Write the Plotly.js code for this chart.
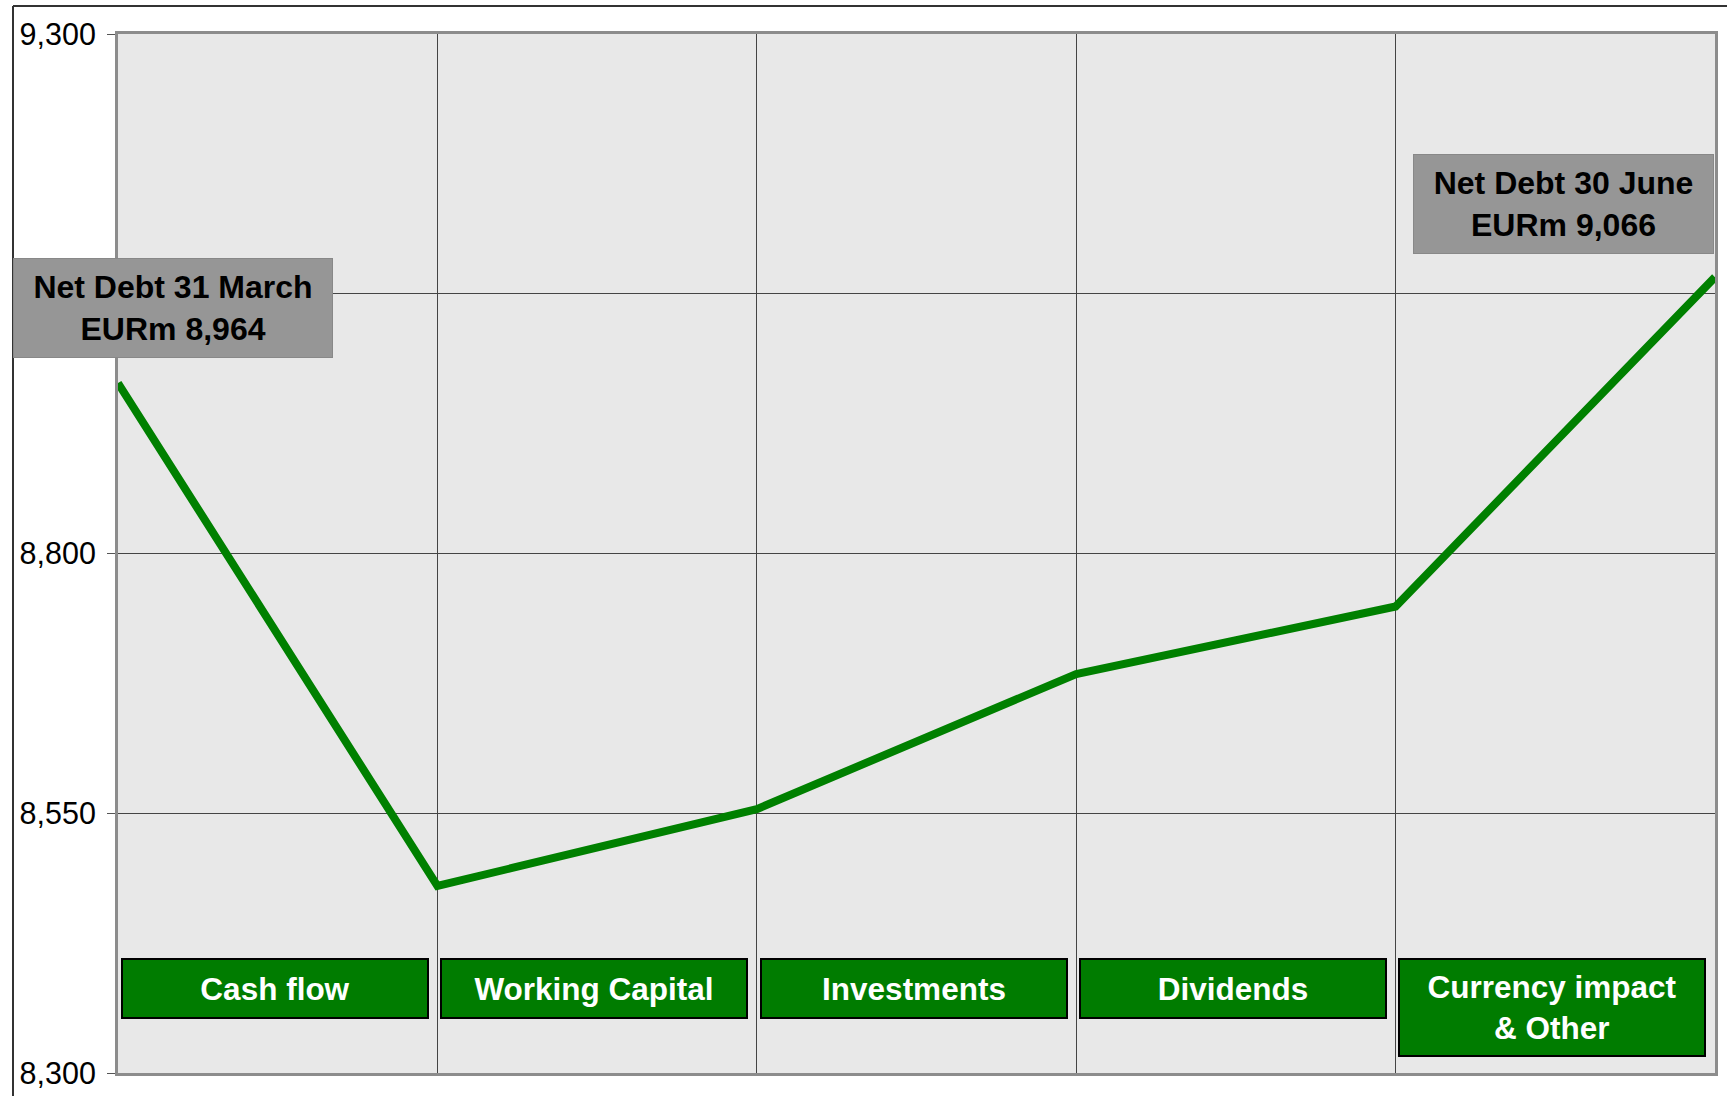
<!DOCTYPE html>
<html>
<head>
<meta charset="utf-8">
<script src="https://cdn.plot.ly/plotly-3.0.1.min.js"></script>
<style>
  html, body { margin: 0; padding: 0; background: #ffffff; }
  #chart { width: 1727px; height: 1096px; }
</style>
</head>
<body>
<div id="chart"></div>
<script>
// ---- data ----
const categories = ['Cash flow', 'Working Capital', 'Investments', 'Dividends', 'Currency impact<br>& Other'];
const netDebt = [8964, 8480, 8554, 8684, 8749, 9066];
const yTicks = [8300, 8550, 8800, 9050, 9300];
// the 9,050 label is hidden behind the "31 March" box in the reference
const yTickLabels = ['8,300', '8,550', '8,800', '', '9,300'];
const startLabel = 'Net Debt 31 March<br>EURm 8,964';
const endLabel = 'Net Debt 30 June<br>EURm 9,066';

// ---- layout constants ----
const W = 1727, H = 1096;
const mL = 118, mR = 12, mT = 34, mB = 23;
const plotW = W - mL - mR, plotH = H - mT - mB;
const px = x => (x - mL) / plotW;           // pixel -> paper x
const py = y => (H - mB - y) / plotH;        // pixel -> paper y

const xIdx = netDebt.map((_, i) => i);

const trace = {
  type: 'scatter',
  mode: 'lines',
  x: xIdx,
  y: netDebt,
  line: { color: '#008000', width: 8 },
  hoverinfo: 'skip'
};

const annotations = [];
categories.forEach((c, i) => {
  const twoLines = c.includes('<br>');
  annotations.push({
    xref: 'x', yref: 'paper',
    x: i + 0.5, y: py(958),
    xanchor: 'center', yanchor: 'top',
    xshift: -3,
    text: '<b>' + c + '</b>',
    showarrow: false,
    font: { family: 'Liberation Sans, Arial, sans-serif', size: 31.5, color: '#ffffff' },
    bgcolor: '#007c00',
    bordercolor: '#000000',
    borderwidth: 2,
    borderpad: 0,
    width: 304,
    height: twoLines ? 95 : 57,
    align: 'center',
    valign: 'middle'
  });
});

const boxFont = { family: 'Liberation Sans, Arial, sans-serif', size: 32, color: '#000000' };
annotations.push({
  xref: 'paper', yref: 'paper',
  x: px(173), y: py(308),
  xanchor: 'center', yanchor: 'middle',
  text: '<b>' + startLabel + '</b>',
  showarrow: false,
  font: boxFont,
  bgcolor: '#969696',
  bordercolor: '#888888',
  borderwidth: 1,
  borderpad: 0,
  width: 318,
  height: 98,
  align: 'center',
  valign: 'middle'
});
annotations.push({
  xref: 'paper', yref: 'paper',
  x: px(1563.5), y: py(204),
  xanchor: 'center', yanchor: 'middle',
  text: '<b>' + endLabel + '</b>',
  showarrow: false,
  font: boxFont,
  bgcolor: '#969696',
  bordercolor: '#888888',
  borderwidth: 1,
  borderpad: 0,
  width: 299,
  height: 98,
  align: 'center',
  valign: 'middle'
});

const shapes = [
  // outer frame: left and top lines
  { type: 'line', xref: 'paper', yref: 'paper', x0: px(13), x1: px(13), y0: py(6), y1: py(H + 5),
    line: { color: '#333333', width: 2 } },
  { type: 'line', xref: 'paper', yref: 'paper', x0: px(13), x1: px(W + 5), y0: py(6), y1: py(6),
    line: { color: '#333333', width: 2 } }
];

const layout = {
  width: W, height: H,
  margin: { l: mL, r: mR, t: mT, b: mB, pad: 0 },
  paper_bgcolor: '#ffffff',
  plot_bgcolor: '#e8e8e8',
  showlegend: false,
  xaxis: {
    range: [0, 5],
    tickvals: [1, 2, 3, 4],
    showticklabels: false,
    ticks: '',
    showgrid: true,
    gridcolor: '#444444',
    gridwidth: 1,
    zeroline: false,
    showline: true,
    mirror: true,
    linecolor: '#8c8c8c',
    linewidth: 3,
    fixedrange: true
  },
  yaxis: {
    range: [8300, 9300],
    tickmode: 'array',
    tickvals: yTicks,
    ticktext: yTickLabels,
    ticks: 'outside',
    ticklen: 8,
    tickwidth: 1,
    tickcolor: '#555555',
    ticklabelstandoff: 5,
    tickfont: { family: 'Liberation Sans, Arial, sans-serif', size: 30.5, color: '#000000' },
    showgrid: true,
    gridcolor: '#444444',
    gridwidth: 1,
    zeroline: false,
    showline: true,
    mirror: true,
    linecolor: '#8c8c8c',
    linewidth: 3,
    fixedrange: true
  },
  annotations: annotations,
  shapes: shapes
};

Plotly.newPlot('chart', [trace], layout, { displayModeBar: false, staticPlot: true });
</script>
</body>
</html>
